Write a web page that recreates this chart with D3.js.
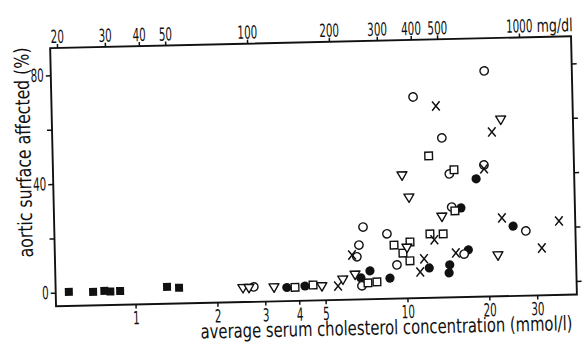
<!DOCTYPE html>
<meta charset="utf-8">
<body style="margin: 0; overflow: hidden; background: #fff">
<script src="https://d3js.org/d3.v7.min.js"></script>
<script>
    // values: [serum cholesterol mmol/l, aortic surface %]
    var filledSquares = [[0.57,0.2],[0.70,0],[0.77,0.3],[0.81,0],[0.88,0.1],[1.31,1.2],[1.45,0.8]];
    var openTriangles = [[2.49,0],[2.62,0],[3.24,0],[4.86,0],[5.81,2.3],[6.45,4.0],[9.78,40.1],[10.33,31.9],
                         [10.06,13.5],[13.6,24.6],[22.8,59.8],[21.7,9.9]];
    var openCircles = [[2.73,0.5],[6.82,0],[6.57,10.7],[6.70,15.0],[6.96,21.6],[8.51,18.9],[9.21,7.4],[10.9,69.0],
                       [13.8,53.7],[14.6,40.4],[14.8,28.2],[16.3,10.8],[19.6,43.4],[20.0,78.0],[27.6,18.8]];
    var openSquares = [[3.87,0],[4.51,0.7],[7.18,1.0],[7.75,1.3],[9.02,14.7],[9.71,11.7],[10.33,15.7],[10.29,8.8],
                       [12.25,18.5],[13.7,18.4],[12.3,47.2],[15.2,41.9],[15.2,26.8]];
    var filledCircles = [[3.61,0],[4.21,0.4],[6.77,2.9],[7.32,5.4],[8.66,2.6],[12.1,6.0],[14.4,7.0],[14.3,4.0],
                         [16.9,12.3],[16.0,27.8],[18.3,38.4],[24.8,20.7]];
    var crosses = [[5.57,0.1],[6.31,11.4],[11.2,4.6],[11.6,9.4],[12.7,16.3],[13.2,65.5],[15.2,11.3],[19.6,42.0],
                   [21.1,55.5],[22.6,23.8],[31.5,12.4],[36.6,22.2]];

    var mmolTicks = [1, 2, 3, 4, 5, 10, 20, 30];
    var mgTicks = [20, 30, 40, 50, 100, 200, 300, 400, 500, 1000];
    var pctTicks = [0, 20, 40, 60, 80];
    var pctLabels = [0, 40, 80];
    var mgPerMmol = 37;

    var width = 582, height = 345;
    var font = '"DejaVu Sans", sans-serif';
    var digitW = 6.6; // the print uses a very narrow face

    var x = d3.scaleLog().domain([0.51, 42]).range([53, 574]);
    var xTop = d3.scaleLog().domain([0.51 * mgPerMmol, 42 * mgPerMmol]).range([53, 574]);
    var y = d3.scaleLinear().domain([-5, 90]).range([300.5, 42.2]);

    var svg = d3.select("body").append("svg")
        .attr("width", width)
        .attr("height", height)
        .style("font-family", font);

    // the scan is a bit crooked, so tilt the whole thing
    var g = svg.append("g").attr("transform", "rotate(-1.3 312 170)");

    g.append("rect")
        .attr("x", x.range()[0]).attr("y", y.range()[1])
        .attr("width", x.range()[1] - x.range()[0])
        .attr("height", y.range()[0] - y.range()[1])
        .attr("fill", "none").attr("stroke", "#111").attr("stroke-width", 1.9);

    var styleAxis = function (sel) {
        sel.select(".domain").remove();
        sel.selectAll("line").attr("stroke", "#111").attr("stroke-width", 1.5);
        sel.selectAll("text")
            .attr("fill", "#111")
            .style("font-size", "18px").style("font-family", font)
            .each(function () {
                var t = d3.select(this).text();
                if (t.length) d3.select(this).attr("textLength", t.length * digitW).attr("lengthAdjust", "spacingAndGlyphs");
            });
    };

    // squeeze a text horizontally to a given width (narrow print face)
    var narrowText = function (parent, str, size, w, place) {
        var t = parent.append("text")
            .style("font-size", size + "px").attr("fill", "#111")
            .text(str);
        var sx = w / t.node().getComputedTextLength();
        t.attr("transform", place + " scale(" + sx + ",1)");
        return t;
    };

    g.append("g")
        .attr("transform", "translate(0," + y.range()[0] + ")")
        .call(d3.axisBottom(x).tickValues(mmolTicks).tickFormat(d3.format("d")).tickSize(4).tickPadding(3))
        .call(styleAxis);

    g.append("g")
        .attr("transform", "translate(0," + y.range()[1] + ")")
        .call(d3.axisTop(xTop).tickValues(mgTicks).tickFormat(d3.format("d")).tickSize(4).tickPadding(1))
        .call(styleAxis);

    narrowText(g, "mg/dl", 18, 36, "translate(" + (xTop(1000) + 18) + "," + (y.range()[1] - 5) + ")");

    g.append("g")
        .attr("transform", "translate(" + x.range()[0] + ",0)")
        .call(d3.axisLeft(y).tickValues(pctTicks)
            .tickFormat(function (d) { return pctLabels.indexOf(d) >= 0 ? d : ""; })
            .tickSize(5).tickPadding(2))
        .call(styleAxis);

    g.append("g")
        .attr("transform", "translate(" + x.range()[1] + ",0)")
        .call(d3.axisRight(y).tickValues(pctTicks).tickFormat("").tickSize(5))
        .call(styleAxis);

    narrowText(g, "average serum cholesterol concentration (mmol/l)", 20, 372, "translate(197,336)");

    narrowText(g, "aortic surface affected (%)", 20, 210, "translate(31,146) rotate(-90)")
        .attr("text-anchor", "middle");

    var pos = function (d) { return "translate(" + x(d[0]) + "," + y(d[1]) + ")"; };
    var marks = g.append("g");

    marks.selectAll(".fsq").data(filledSquares).enter().append("rect")
        .attr("transform", pos)
        .attr("x", -4).attr("y", -4).attr("width", 8).attr("height", 8)
        .attr("fill", "#111");

    marks.selectAll(".fci").data(filledCircles).enter().append("circle")
        .attr("transform", pos).attr("r", 4.6).attr("fill", "#111");

    marks.selectAll(".oci").data(openCircles).enter().append("circle")
        .attr("transform", pos).attr("r", 4.2)
        .attr("fill", "#fff").attr("stroke", "#111").attr("stroke-width", 1.4);

    marks.selectAll(".osq").data(openSquares).enter().append("rect")
        .attr("transform", pos)
        .attr("x", -3.8).attr("y", -3.8).attr("width", 7.6).attr("height", 7.6)
        .attr("fill", "#fff").attr("stroke", "#111").attr("stroke-width", 1.4);

    marks.selectAll(".otr").data(openTriangles).enter().append("path")
        .attr("transform", pos)
        .attr("d", "M-5,-4L5,-4L0,4.5Z")
        .attr("fill", "#fff").attr("stroke", "#111").attr("stroke-width", 1.4)
        .attr("stroke-linejoin", "round");

    marks.selectAll(".xx").data(crosses).enter().append("path")
        .attr("transform", pos)
        .attr("d", "M-3.8,-4.6L3.8,4.6M-3.8,4.6L3.8,-4.6")
        .attr("fill", "none").attr("stroke", "#111").attr("stroke-width", 1.5);
</script>
